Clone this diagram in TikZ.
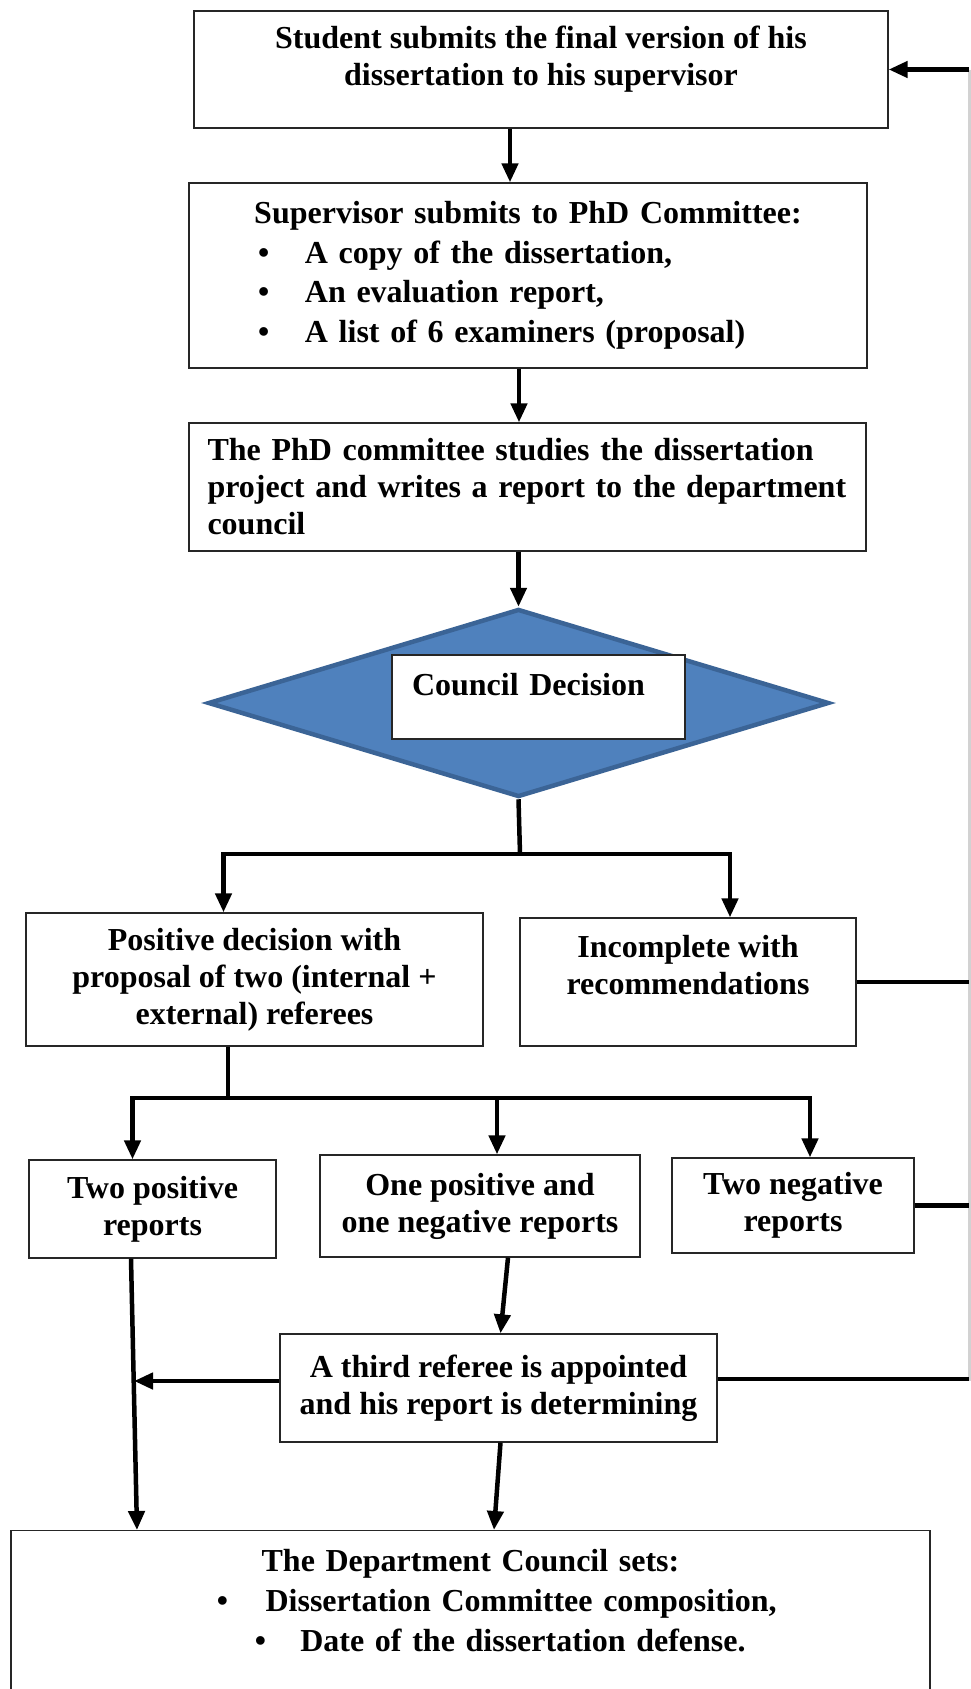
\documentclass[tikz,border=0pt]{standalone}
\usepackage{fontspec}
\setmainfont{Liberation Serif}
\usepackage{xcolor}
\usepackage{tikz}
\usetikzlibrary{calc, positioning, arrows.meta, shapes.geometric}
\definecolor{decfill}{HTML}{4F81BD}
\definecolor{decline}{HTML}{3B6496}
\tikzset{
    workflow/.style={
        x=1pt, y=-1pt,
        font=\bfseries\fontsize{32}{37}\selectfont,
        >={Triangle[length=19pt, width=16pt]},
        block/.style={draw=black!85, line width=1.3pt, rectangle, align=center, inner sep=0pt},
        listblock/.style={block, align=left, font=\bfseries\fontsize{32}{39.6}\selectfont},
        decide/.style={diamond, draw=decline, fill=decfill, line width=4.5pt, inner sep=0pt},
        arrow/.style={line width=4.5pt, ->},
        link/.style={line width=4.5pt},
        rail/.style={line width=3pt, gray!35}
    }
}

\begin{document}
\begin{tikzpicture}[workflow]
        \useasboundingbox (0,0) rectangle (970,1689);

        % Return rail on the right
        \coordinate (railtop) at (969,69.5);
        \coordinate (railbot) at (969,1381);
        \draw[rail] (railtop) -- (railbot);

        % Main column
        \node[block, minimum width=694pt, minimum height=117pt] (submit) at (541,69.5) {Student submits the final version of his\\dissertation to his supervisor\\[-10pt]\mbox{}};
        \node[listblock, minimum width=678pt, minimum height=185pt, text width=678pt] (supervisor) at (528,275.5) {\makebox[678pt]{Supervisor submits to PhD Committee:}\\
            \hspace*{69pt}\makebox[47pt][l]{\textbullet}A copy of the dissertation,\\
            \hspace*{69pt}\makebox[47pt][l]{\textbullet}An evaluation report,\\
            \hspace*{69pt}\makebox[47pt][l]{\textbullet}A list of 6 examiners (proposal)};
        \node[block, align=left, minimum width=677pt, minimum height=128pt, text width=640pt, inner xsep=18.5pt] (committee) at (527.5,487) {The PhD committee studies the dissertation\\project and writes a report to the department\\council};

        % Decision
        \node[decide, minimum width=621pt, minimum height=188pt] (decision) at (518.5,703) {};
        \node[block, fill=white, align=left, minimum width=293pt, minimum height=84pt, text width=253pt, inner xsep=20pt, inner ysep=16pt, text height=24pt, text depth=28pt] (decbox) at (538.5,697) {Council Decision};

        % Outcomes
        \node[block, minimum width=457pt, minimum height=133pt] (pos) at (254.5,979.5) {Positive decision with\\proposal of two (internal +\\external) referees};
        \node[block, minimum width=336pt, minimum height=128pt] (incomp) at (688,982) {Incomplete with\\recommendations\\[-2pt]\mbox{}};

        \node[block, minimum width=247pt, minimum height=98pt] (twopos) at (152.5,1209) {Two positive\\reports};
        \node[block, minimum width=320pt, minimum height=102pt] (onepos) at (480,1206) {One positive and\\one negative reports};
        \node[block, minimum width=242pt, minimum height=95pt] (twoneg) at (793,1205.5) {Two negative\\reports};

        \node[block, minimum width=437pt, minimum height=108pt] (third) at (498.5,1388) {A third referee is appointed\\and his report is determining};

        \node[listblock, anchor=north, minimum width=919pt, text width=919pt, inner ysep=19pt] (final) at (470.5,1530) {\makebox[919pt]{The Department Council sets:}\\
            \hspace*{206pt}\makebox[48.6pt][l]{\textbullet}Dissertation Committee composition,\\
            \hspace*{244pt}\makebox[45.4pt][l]{\textbullet}Date of the dissertation defense.\\[40pt]\mbox{}};

        % Forks
        \coordinate (fork1) at (520,854);
        \coordinate (fork2) at (228,1098);
        \coordinate (join) at (134,1381);

        % Arrows
        \draw[arrow] (railtop) -- (submit.east);
        \draw[arrow] ([xshift=-31pt]submit.south) -- ([xshift=-31pt]submit.south |- supervisor.north);
        \draw[arrow] ([xshift=-9pt]supervisor.south) -- ([xshift=-9pt]supervisor.south |- committee.north);
        \draw[arrow] (committee.south -| decision.north) -- (decision.north);

        \draw[link] (decision.south) -- (fork1);
        \draw[arrow] (fork1) -| ([xshift=-31pt]pos.north);
        \draw[arrow] (fork1) -| ([xshift=42pt]incomp.north);

        \draw[link] ([xshift=-26.5pt]pos.south) -- (fork2);
        \draw[arrow] (fork2) -| ([xshift=-20pt]twopos.north);
        \draw[arrow] (fork2) -| ([xshift=17pt]onepos.north);
        \draw[arrow] (fork2) -| ([xshift=17pt]twoneg.north);

        \draw[arrow] ([xshift=28pt]onepos.south) -- ([xshift=2pt]third.north);
        \draw[arrow] ([xshift=-21.5pt]twopos.south) -- ([xshift=-333.5pt]final.north);
        \draw[arrow] ([yshift=7pt]third.west) -- (join);
        \draw[arrow] ([xshift=2pt]third.south) -- ([xshift=23.5pt]final.north);

        \draw[link] (incomp.east) -- (incomp.east -| railtop);
        \draw[link] (twoneg.east) -- (twoneg.east -| railtop);
        \draw[link] ([yshift=9pt]third.east) -- ([yshift=9pt]third.east -| railtop);

    \end{tikzpicture}
\end{document}
